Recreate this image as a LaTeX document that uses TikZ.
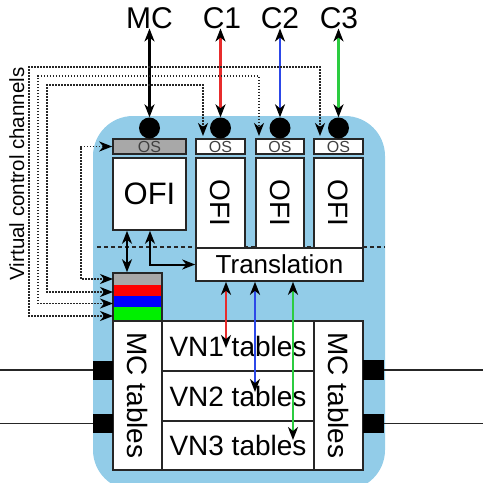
\documentclass[tikz,border=0pt]{standalone}
\usepackage{fontspec}
\setmainfont{Liberation Sans}
\usetikzlibrary{arrows.meta}
\definecolor{bgblue}{RGB}{146,204,232}
\definecolor{osgray}{RGB}{168,168,168}
\definecolor{lred}{RGB}{232,44,44}
\definecolor{lblue}{RGB}{44,72,232}
\definecolor{lgreen}{RGB}{44,204,64}
\definecolor{sred}{RGB}{255,0,0}
\definecolor{sblue}{RGB}{0,0,255}
\definecolor{sgreen}{RGB}{0,240,0}
\newcommand{\fsz}[1]{\fontsize{#1}{#1}\selectfont}
\begin{document}
\begin{tikzpicture}[x=1pt,y=-1pt,
  >={Stealth[length=13pt,width=10pt,inset=4pt,color=black]},
  box/.style={draw=black!85, line width=1.6pt, fill=white, inner sep=0pt},
  osbox/.style={box, minimum height=15pt, font=\fsz{16}, text=black!75},
  lbl/.style={font=\fsz{30}, inner sep=0pt, anchor=base},
  dot/.style={circle, fill=black, minimum size=21pt, inner sep=0pt},
  port/.style={fill=black, inner sep=0pt, minimum width=20pt, minimum height=19pt},
  conn/.style={<->, line width=2.3pt},
  vcc/.style={<->, line width=1.8pt, black!85, dash pattern=on 1.6pt off 1.4pt},
  sep/.style={line width=1.3pt, black!85, dash pattern=on 4pt off 3pt},
  wire/.style={line width=1.5pt, black!85}
]
\useasboundingbox (0,0) rectangle (483,483);
\clip (0,0) rectangle (483,483);

% background
\fill[bgblue, rounded corners=40pt] (93,116) rectangle (385,490);

% dashed separator
\coordinate (dl) at (97,247);
\coordinate (dr) at (385,247);
\draw[sep] (dl) -- (dr);

% top labels
\node[lbl] (lMC) at (149.5,28) {MC};
\node[lbl] (lC1) at (222,28) {C1};
\node[lbl] (lC2) at (280,28) {C2};
\node[lbl] (lC3) at (339,28) {C3};

% OS boxes
\node[osbox, fill=osgray, minimum width=73pt] (osMC) at (149.5,146.5) {OS};
\node[osbox, minimum width=49pt] (osC1) at (220.5,146.5) {OS};
\node[osbox, minimum width=48pt] (osC2) at (280,146.5) {OS};
\node[osbox, minimum width=49pt] (osC3) at (338.5,146.5) {OS};

% OFI boxes
\node[box, minimum width=73pt, minimum height=72pt, font=\fsz{31}] (ofiMC) at (149.5,194) {OFI};
\node[box, rotate=-90, minimum width=90pt, minimum height=49pt, font=\fsz{28}] (ofiC1) at (220.5,203) {OFI};
\node[box, rotate=-90, minimum width=90pt, minimum height=48pt, font=\fsz{28}] (ofiC2) at (280,203) {OFI};
\node[box, rotate=-90, minimum width=90pt, minimum height=49pt, font=\fsz{28}] (ofiC3) at (338.5,203) {OFI};

% translation
\node[box, minimum width=167pt, minimum height=33pt, font=\fsz{26}] (trans) at (279.5,264.5) {Translation};

% circles
\node[dot] (dMC) at (149.5,128) {};
\node[dot] (dC1) at (220.5,128) {};
\node[dot] (dC2) at (280,128) {};
\node[dot] (dC3) at (338.5,128) {};

% top arrows
\draw[conn, black] (lMC.south) -- (dMC.north);
\draw[conn, lred] (lC1.south -| dC1) -- (dC1.north);
\draw[conn, lblue] (lC2.south -| dC2) -- (dC2.north);
\draw[conn, lgreen] (lC3.south -| dC3) -- (dC3.north);

% colour stack
\fill[osgray] (113,273) rectangle (162,285);
\fill[sred] (113,285) rectangle (162,296);
\fill[sblue] (113,296) rectangle (162,307);
\fill[sgreen] (113,307) rectangle (162,321);
\node[draw=black!85, line width=1.6pt, inner sep=0pt, minimum width=49pt, minimum height=48pt] (stack) at (137.5,297) {};

% tables
\node[box, rotate=-90, minimum width=149pt, minimum height=49pt, font=\fsz{28}] (mcL) at (137.5,395.5) {MC tables};
\node[box, minimum width=152pt, minimum height=50pt, font=\fsz{28}] (vn1) at (238,346) {VN1 tables};
\node[box, minimum width=152pt, minimum height=50pt, font=\fsz{28}] (vn2) at (238,396) {VN2 tables};
\node[box, minimum width=152pt, minimum height=49pt, font=\fsz{28}] (vn3) at (238,445.5) {VN3 tables};
\node[box, rotate=-90, minimum width=149pt, minimum height=49pt, font=\fsz{28}] (mcR) at (338.5,395.5) {MC tables};

% ports and links
\node[port] (pL1) at (103,370) {};
\node[port] (pL2) at (103,423.5) {};
\node[port, minimum width=21pt, minimum height=20pt] (pR1) at (373.5,370) {};
\node[port, minimum width=21pt] (pR2) at (373.5,423.5) {};
\coordinate (eL1) at (0,370);
\coordinate (eL2) at (0,423.5);
\coordinate (eR1) at (483,370);
\coordinate (eR2) at (483,423.5);
\draw[wire] (eL1) -- (pL1.west);
\draw[wire] (eL2) -- (pL2.west);
\draw[wire] (pR1.east) -- (eR1);
\draw[wire] (pR2.east) -- (eR2);

% OFI(MC) links
\coordinate (xa) at (127,0);
\coordinate (xb) at (150,0);
\draw[conn, line width=2pt] (ofiMC.south -| xa) -- (stack.north -| xa);
\draw[conn, line width=2pt] (ofiMC.south -| xb) |- (trans.west);

% translation to VN tables
\coordinate (rt) at (226,348);
\coordinate (bt) at (255,392);
\coordinate (gt) at (293,440);
\draw[conn, lred] (trans.south -| rt) -- (rt);
\draw[conn, lblue] (trans.south -| bt) -- (bt);
\draw[conn, lgreen] (trans.south -| gt) -- (gt);

% virtual control channels
\coordinate (s0) at (113,279);
\coordinate (s1) at (113,292);
\coordinate (s2) at (113,303.5);
\coordinate (s3) at (113,316);
\coordinate (t1) at (203,136);
\coordinate (t2) at (259,136);
\coordinate (t3) at (320,136);
\draw[vcc] (s3) -- (29,316) -- (29,67) -- (320,67) -- (t3);
\draw[vcc] (s2) -- (38,303.5) -- (38,76) -- (259,76) -- (t2);
\draw[vcc] (s1) -- (47,292) -- (47,85) -- (203,85) -- (t1);
\draw[vcc] (s0) -- (81,279) -- (81,146.5) -- (osMC.west);

\node[font=\fsz{20.5}, rotate=90, inner sep=0pt, anchor=base] (vlab) at (24,174) {Virtual control channels};
\end{tikzpicture}
\end{document}
